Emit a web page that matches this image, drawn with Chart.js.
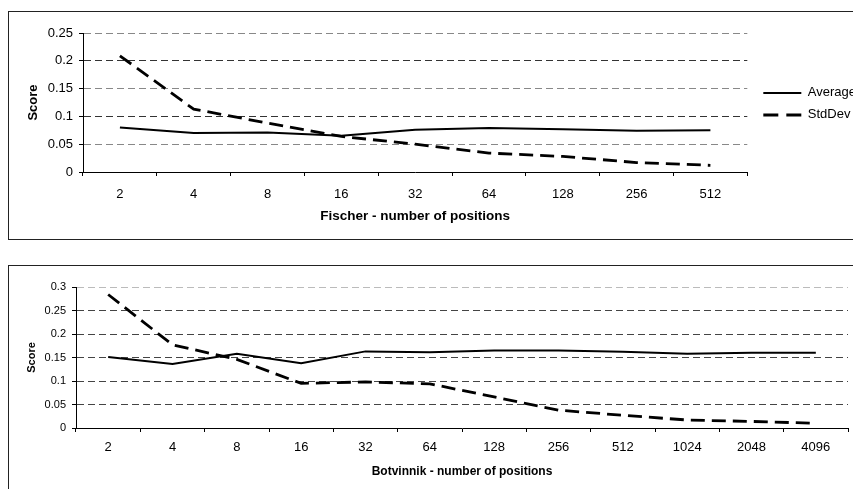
<!DOCTYPE html>
<html>
<head>
<meta charset="utf-8">
<script src="https://cdn.jsdelivr.net/npm/chart.js@4/dist/chart.umd.min.js"></script>
<style>
  html, body { margin: 0; padding: 0; background: #fff; overflow: hidden; width: 853px; height: 489px; }
  .box { position: absolute; border: 1px solid #222; }
  #box1 { left: 8px; top: 11px; width: 900px; height: 227px; }
  #box2 { left: 8px; top: 265px; width: 900px; height: 240px; }
  canvas { position: absolute; left: 0; top: 0; }
</style>
</head>
<body>
<div class="box" id="box1"><canvas id="fischer" width="880" height="226"></canvas></div>
<div class="box" id="box2"><canvas id="botvinnik" width="870" height="230"></canvas></div>
<script>
const fischerLabels = ["2", "4", "8", "16", "32", "64", "128", "256", "512"];
const fischerAverage = [0.080, 0.070, 0.071, 0.065, 0.076, 0.079, 0.077, 0.074, 0.075];
const fischerStdDev = [0.209, 0.113, 0.088, 0.064, 0.050, 0.034, 0.028, 0.017, 0.012];

const botvinnikLabels = ["2", "4", "8", "16", "32", "64", "128", "256", "512", "1024", "2048", "4096"];
const botvinnikAverage = [0.151, 0.136, 0.158, 0.138, 0.163, 0.161, 0.165, 0.165, 0.162, 0.158, 0.160, 0.160];
const botvinnikStdDev = [0.284, 0.177, 0.146, 0.095, 0.098, 0.094, 0.066, 0.038, 0.027, 0.017, 0.014, 0.010];

Chart.defaults.font.family = "'Liberation Sans', Arial, sans-serif";
Chart.defaults.color = "#000";
Chart.defaults.animation = false;

// legend samples should use the dataset line style, not the point style
function legendLabels(chart) {
  const items = Chart.defaults.plugins.legend.labels.generateLabels(chart);
  items.forEach(item => {
    const ds = chart.data.datasets[item.datasetIndex];
    item.lineDash = ds.borderDash ? [15, 8] : [];
    item.lineWidth = ds.borderDash ? 3 : 2;
  });
  return items;
}

function makeChart(id, labels, avg, std, opts) {
  const scales = {
    x: {
      offset: true,
      afterFit: s => { s.height = opts.xHeight; },
      grid: { offset: true, drawOnChartArea: false, color: "#000", tickLength: 4 },
      border: { color: "#000", width: 1 },
      ticks: { font: { size: opts.xFont }, padding: opts.xPad, maxRotation: 0, autoSkip: false },
      title: { display: true, text: opts.xTitle, font: { size: opts.titleFont, weight: "bold" }, padding: { top: 4, bottom: 0 } }
    },
    y: {
      min: 0, max: opts.yMax,
      afterFit: s => { s.width = opts.yWidth; },
      grid: {
        color: c => c.tick.value === 0 ? "rgba(0,0,0,0)" : opts.gridColor(c.tick.value),
        tickColor: "#000", tickLength: 4
      },
      border: { color: "#000", width: 1, dash: [7, 4] },
      ticks: { stepSize: 0.05, font: { size: opts.yFont }, padding: 6,
        callback: v => String(+v.toFixed(2)) },
      title: { display: true, text: "Score", font: { size: opts.scoreFont, weight: "bold" }, padding: 0 }
    }
  };
  if (opts.legend) {
    // empty spacer between the plot and the legend
    scales.gap = {
      type: "linear", position: "right", display: true,
      grid: { display: false }, border: { display: false }, ticks: { display: false },
      afterFit: s => { s.width = opts.gap; }
    };
  }
  return new Chart(document.getElementById(id), {
    type: "line",
    data: {
      labels: labels,
      datasets: [
        { label: "Average", data: avg, borderColor: "#000", backgroundColor: "#000",
          borderWidth: 2, pointRadius: 0, tension: 0 },
        { label: "StdDev", data: std, borderColor: "#000", backgroundColor: "#000",
          borderWidth: 2.8, borderDash: [14, 7], pointRadius: 0, tension: 0 }
      ]
    },
    options: {
      responsive: false,
      layout: { padding: opts.padding },
      plugins: {
        tooltip: { enabled: false },
        legend: {
          display: opts.legend,
          position: "right",
          align: "start",
          title: { display: true, text: " ", padding: { top: 30, bottom: 0 } },
          labels: {
            usePointStyle: true, pointStyle: "line", pointStyleWidth: 38,
            font: { size: 13 }, padding: 9, color: "#000",
            generateLabels: legendLabels
          }
        }
      },
      scales: scales
    }
  });
}

makeChart("fischer", fischerLabels, fischerAverage, fischerStdDev, {
  legend: true, yMax: 0.25, xFont: 13, yFont: 13, scoreFont: 13, titleFont: 13.5,
  padding: { left: 17, top: 21, right: 23, bottom: 14 },
  yWidth: 57, xHeight: 52, xPad: 11, gap: 7,
  xTitle: "Fischer - number of positions",
  gridColor: v => (Math.round(v * 100) % 10 === 0) ? "#333" : "#888"
});

makeChart("botvinnik", botvinnikLabels, botvinnikAverage, botvinnikStdDev, {
  legend: false, yMax: 0.3, xFont: 13, yFont: 11, scoreFont: 11, titleFont: 12,
  padding: { left: 16, top: 21, right: 31, bottom: 17 },
  yWidth: 51, xHeight: 51, xPad: 8,
  xTitle: "Botvinnik - number of positions",
  gridColor: v => v > 0.29 ? "#bbb" : "#444"
});
</script>
</body>
</html>
